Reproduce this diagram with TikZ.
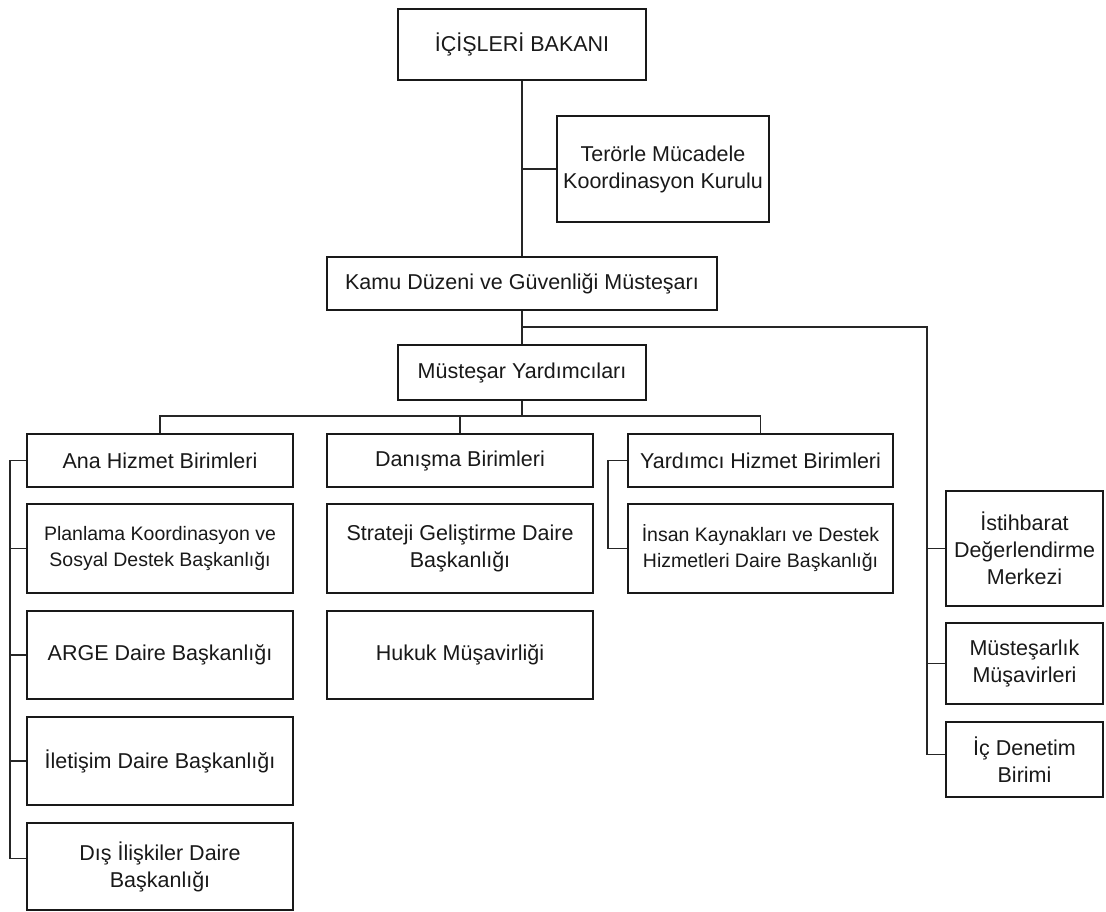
\documentclass[tikz,border=0pt]{standalone}
\usepackage{fontspec}
\setmainfont{Liberation Sans}
\usetikzlibrary{positioning, calc}

\begin{document}
\begin{tikzpicture}[x=1pt, y=-1pt,
    every node/.style={font=\fontsize{21.5}{27}\selectfont, text=black!90},
    box/.style={rectangle, draw=black!90, line width=2pt, fill=white, align=center, inner sep=0pt},
    unit/.style={box, minimum width=266pt},
    side/.style={box, minimum width=157pt},
    small/.style={font=\fontsize{19.5}{26}\selectfont},
    link/.style={draw=black!85, line width=1.8pt}]

  \useasboundingbox (0,0) rectangle (1106,911);

  % top of the chart
  \node[box, minimum width=248pt, minimum height=71pt]  (bakan) at (522,44.5)  {İÇİŞLERİ BAKANI};
  \node[box, minimum width=212pt, minimum height=106pt] (teror) at (663,169)   {Terörle Mücadele\\Koordinasyon Kurulu};
  \node[box, minimum width=390pt, minimum height=53pt]  (kamu)  at (522,283.5) {Kamu Düzeni ve Güvenliği Müsteşarı};
  \node[box, minimum width=248pt, minimum height=55pt]  (yard)  at (522,372.5) {Müsteşar Yardımcıları};

  % Ana Hizmet Birimleri
  \node[unit, minimum height=53pt] (ana)  at (160,460.5) {Ana Hizmet Birimleri};
  \node[unit, small, minimum height=89pt] (plan) at (160,548.5) {Planlama Koordinasyon ve\\Sosyal Destek Başkanlığı};
  \node[unit, minimum height=88pt] (arge) at (160,655)   {ARGE Daire Başkanlığı};
  \node[unit, minimum height=88pt] (ilet) at (160,761)   {İletişim Daire Başkanlığı};
  \node[unit, minimum height=87pt] (dis)  at (160,866.5) {Dış İlişkiler Daire\\Başkanlığı};

  % Danışma Birimleri
  \node[unit, minimum height=53pt] (danisma)  at (460,460.5) {Danışma Birimleri};
  \node[unit, minimum height=89pt] (strateji) at (460,548.5) {Strateji Geliştirme Daire\\Başkanlığı};
  \node[unit, minimum height=88pt] (hukuk)    at (460,655)   {Hukuk Müşavirliği};

  % Yardımcı Hizmet Birimleri
  \node[unit, minimum width=265pt, minimum height=53pt] (yhb)   at (760.5,460.5) {Yardımcı Hizmet Birimleri};
  \node[unit, small, minimum width=265pt, minimum height=89pt] (insan) at (760.5,548.5) {İnsan Kaynakları ve Destek\\Hizmetleri Daire Başkanlığı};

  % right column
  \node[side, minimum height=115pt] (istihbarat) at (1024.5,548.5) {İstihbarat\\Değerlendirme\\Merkezi};
  \node[side, minimum height=81pt]  (musavir)    at (1024.5,663.5) {Müsteşarlık\\Müşavirleri};
  \node[side, minimum height=75pt]  (icdenetim)  at (1024.5,759.5) {İç Denetim\\Birimi};

  \coordinate (rb) at (522,327);
  \coordinate (mb) at (522,416);

  \draw[link] (bakan.south) -- (kamu.north);
  \draw[link] (teror.west) -- (teror.west -| bakan.south);
  \draw[link] (kamu.south) -- (yard.north);

  \draw[link] (rb) -| ([xshift=-18pt, yshift=5pt]icdenetim.west) -- ([yshift=5pt]icdenetim.west);
  \draw[link] (istihbarat.west) -- ++(-18,0);
  \draw[link] (musavir.west) -- ++(-18,0);

  \draw[link] (yard.south) -- (mb);
  \draw[link] (ana.north) |- (mb) -| (yhb.north);
  \draw[link] (danisma.north) -- (danisma.north |- mb);

  \draw[link] (ana.west) -- ++(-16,0) |- ([yshift=8pt]dis.west);
  \foreach \n in {plan, arge, ilet}
    \draw[link] (\n.west) -- ++(-16,0);

  \draw[link] (yhb.west) -- ++(-19,0) |- (insan.west);
\end{tikzpicture}
\end{document}
